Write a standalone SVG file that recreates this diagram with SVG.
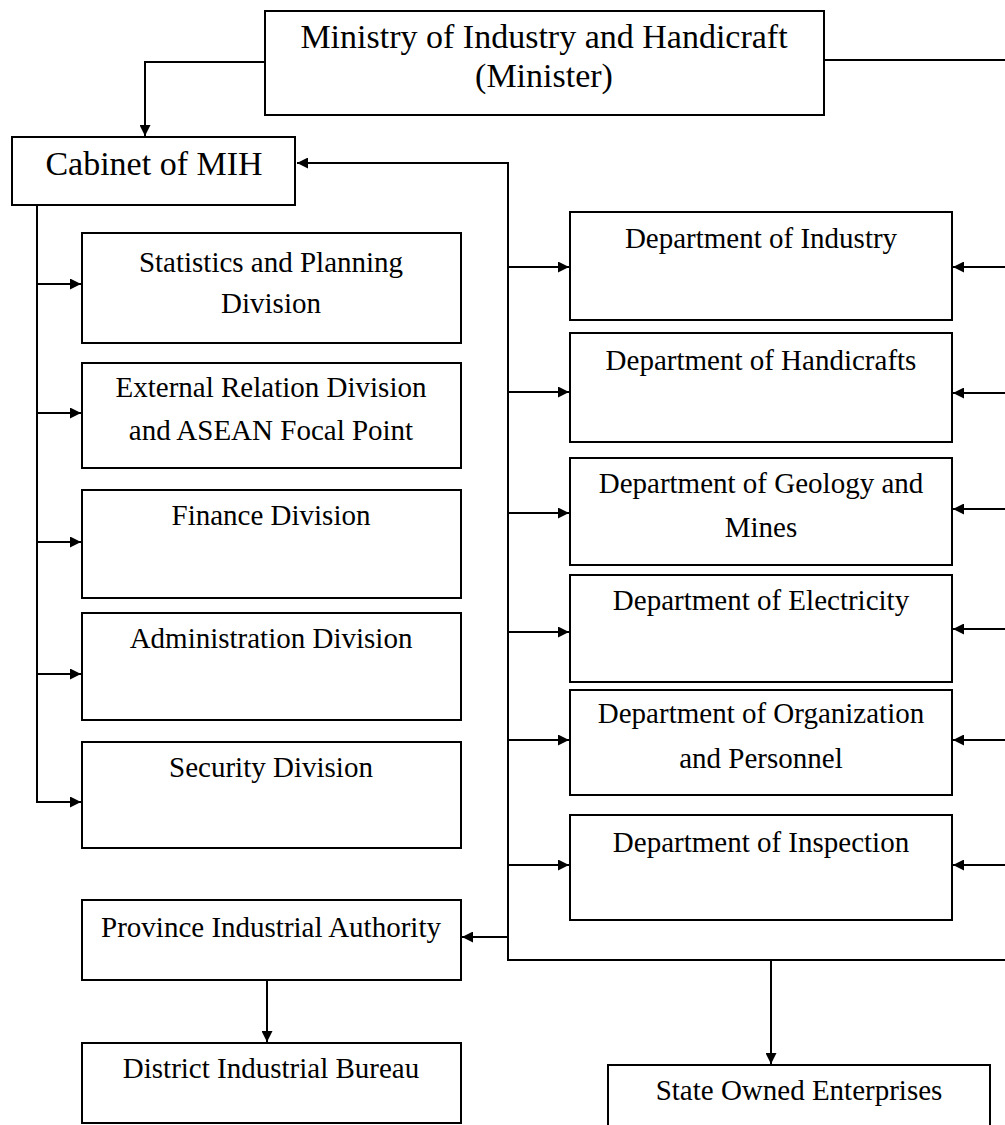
<svg xmlns="http://www.w3.org/2000/svg" width="1005" height="1125" viewBox="0 0 1005 1125">
<style>
.box{fill:#fff;stroke:#000;stroke-width:2}
.t{font-family:"Liberation Serif","Times New Roman",serif;font-size:29px;fill:#000;text-anchor:middle}
.tl{font-family:"Liberation Serif","Times New Roman",serif;font-size:34px;fill:#000;text-anchor:middle}
.c{fill:none;stroke:#000;stroke-width:2}
</style>
<defs>
<marker id="ah" viewBox="0 0 10 10" refX="10" refY="5" markerWidth="13" markerHeight="11" markerUnits="userSpaceOnUse" orient="auto">
<path d="M0,0 L10,5 L0,10 Z" fill="#000"/>
</marker>
</defs>
<rect width="1005" height="1125" fill="#fff"/>
<g id="connectors">
<path class="c" d="M265,62 H145 V136" marker-end="url(#ah)"/>
<path class="c" d="M824,60 H1005"/>
<path class="c" d="M1005,960 H508 V163 H297" marker-end="url(#ah)"/>
<path class="c" d="M508,267 H569" marker-end="url(#ah)"/>
<path class="c" d="M508,392 H569" marker-end="url(#ah)"/>
<path class="c" d="M508,513 H569" marker-end="url(#ah)"/>
<path class="c" d="M508,632 H569" marker-end="url(#ah)"/>
<path class="c" d="M508,740 H569" marker-end="url(#ah)"/>
<path class="c" d="M508,865 H569" marker-end="url(#ah)"/>
<path class="c" d="M1005,267 H953" marker-end="url(#ah)"/>
<path class="c" d="M1005,393 H953" marker-end="url(#ah)"/>
<path class="c" d="M1005,509 H953" marker-end="url(#ah)"/>
<path class="c" d="M1005,629 H953" marker-end="url(#ah)"/>
<path class="c" d="M1005,740 H953" marker-end="url(#ah)"/>
<path class="c" d="M1005,865 H953" marker-end="url(#ah)"/>
<path class="c" d="M508,937 H462" marker-end="url(#ah)"/>
<path class="c" d="M771,960 V1064" marker-end="url(#ah)"/>
<path class="c" d="M37,205 V802 H81" marker-end="url(#ah)"/>
<path class="c" d="M37,284 H81" marker-end="url(#ah)"/>
<path class="c" d="M37,413 H81" marker-end="url(#ah)"/>
<path class="c" d="M37,542 H81" marker-end="url(#ah)"/>
<path class="c" d="M37,674 H81" marker-end="url(#ah)"/>
<path class="c" d="M267,980 V1042" marker-end="url(#ah)"/>
</g>
<g id="ministry"><rect class="box" x="265" y="11" width="559" height="104"/><text class="tl" x="544" y="48">Ministry of Industry and Handicraft</text><text class="tl" x="544" y="87">(Minister)</text></g>
<g id="cabinet"><rect class="box" x="12" y="137" width="283" height="68"/><text class="tl" x="154" y="175">Cabinet of MIH</text></g>
<g id="statistics"><rect class="box" x="82" y="233" width="379" height="110"/><text class="t" x="271" y="272">Statistics and Planning</text><text class="t" x="271" y="313">Division</text></g>
<g id="external"><rect class="box" x="82" y="363" width="379" height="105"/><text class="t" x="271" y="397">External Relation Division</text><text class="t" x="271" y="440">and ASEAN Focal Point</text></g>
<g id="finance"><rect class="box" x="82" y="490" width="379" height="108"/><text class="t" x="271" y="525">Finance Division</text></g>
<g id="administration"><rect class="box" x="82" y="613" width="379" height="107"/><text class="t" x="271" y="648">Administration Division</text></g>
<g id="security"><rect class="box" x="82" y="742" width="379" height="106"/><text class="t" x="271" y="777">Security Division</text></g>
<g id="province"><rect class="box" x="82" y="900" width="379" height="80"/><text class="t" x="271" y="937">Province Industrial Authority</text></g>
<g id="district"><rect class="box" x="82" y="1043" width="379" height="80"/><text class="t" x="271" y="1078">District Industrial Bureau</text></g>
<g id="industry"><rect class="box" x="570" y="212" width="382" height="108"/><text class="t" x="761" y="248">Department of Industry</text></g>
<g id="handicrafts"><rect class="box" x="570" y="333" width="382" height="109"/><text class="t" x="761" y="370">Department of Handicrafts</text></g>
<g id="geology"><rect class="box" x="570" y="458" width="382" height="107"/><text class="t" x="761" y="493">Department of Geology and</text><text class="t" x="761" y="537">Mines</text></g>
<g id="electricity"><rect class="box" x="570" y="575" width="382" height="107"/><text class="t" x="761" y="610">Department of Electricity</text></g>
<g id="organization"><rect class="box" x="570" y="690" width="382" height="105"/><text class="t" x="761" y="723">Department of Organization</text><text class="t" x="761" y="768">and Personnel</text></g>
<g id="inspection"><rect class="box" x="570" y="815" width="382" height="105"/><text class="t" x="761" y="852">Department of Inspection</text></g>
<g id="soe"><rect class="box" x="608" y="1065" width="382" height="80"/><text class="t" x="799" y="1100">State Owned Enterprises</text></g>
</svg>
